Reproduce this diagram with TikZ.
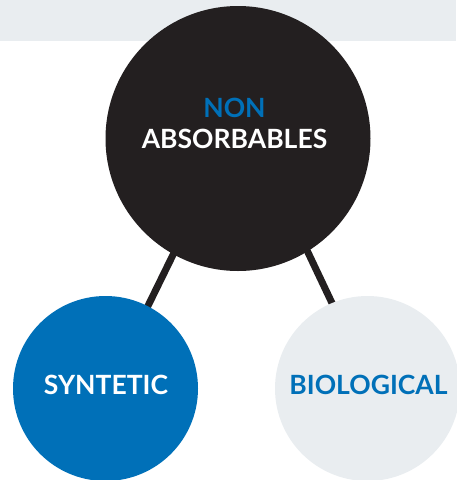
\documentclass[tikz,border=0pt]{standalone}
\usepackage{fontspec}
\setmainfont{Lato}
\usetikzlibrary{calc,backgrounds}
\definecolor{darkc}{HTML}{231F20}
\definecolor{bluec}{HTML}{0070B8}
\definecolor{greyc}{HTML}{E9EDF0}
\tikzset{
  circ/.style={circle, inner sep=0pt, draw=none},
  lbl/.style={inner sep=0pt, font=\bfseries\fontsize{26.5}{30}\selectfont},
  conn/.style={draw=darkc, line width=7pt}
}
\begin{document}
\begin{tikzpicture}[x=1pt,y=-1pt]
\useasboundingbox (0,0) rectangle (456,480);
\node[circ, fill=darkc, minimum size=265pt] (big) at (238,138.5) {};
\node[circ, fill=bluec, minimum size=185pt] (syn) at (105.5,388.5) {};
\node[circ, fill=greyc, minimum size=185pt] (bio) at (367.5,388.5) {};
\node[lbl, text=bluec] (non) at (234.5,108) {NON};
\node[lbl, text=white] (abs) at (234.5,139) {ABSORBABLES};
\node[lbl, text=white] (synt) at (106,385) {SYNTETIC};
\node[lbl, text=bluec] (biot) at (368.5,385) {BIOLOGICAL};
\begin{scope}[on background layer]
  \fill[greyc] (0,0) rectangle (456,41);
  \draw[conn] ($(big.center)+(-8,0)$) -- ($(syn.center)+(2,0)$);
  \draw[conn] ($(big.center)+(16,0)$) -- ($(bio.center)+(5,0)$);
\end{scope}
\end{tikzpicture}
\end{document}
